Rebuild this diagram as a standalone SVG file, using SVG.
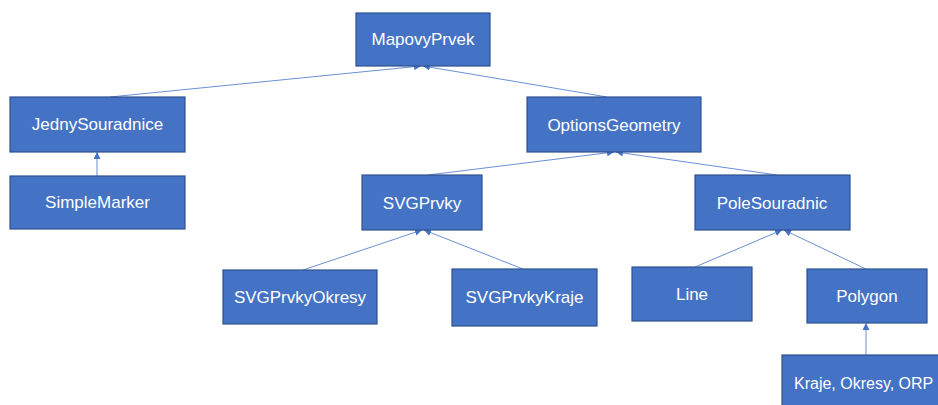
<svg xmlns="http://www.w3.org/2000/svg" width="938" height="405" viewBox="0 0 938 405">
<style>
.box{fill:#4472C4;stroke:#2F528F;stroke-width:1.2}
.lbl{fill:#ffffff;font-family:"Liberation Sans","Open Sans",sans-serif;font-size:17px;text-anchor:middle}
.con{stroke:#6A8FD3;stroke-width:1;fill:none;marker-end:url(#arr)}
</style>
<defs>
<marker id="arr" viewBox="0 0 10 10" refX="10" refY="5" markerWidth="7" markerHeight="7" orient="auto" markerUnits="userSpaceOnUse">
<path d="M0,0 L10,5 L0,10 z" fill="#4472C4"/>
</marker>
</defs>
<rect width="938" height="405" fill="#ffffff"/>
<g id="connectors">
<line class="con" x1="110" y1="97" x2="421" y2="66"/>
<line class="con" x1="607" y1="97" x2="423" y2="66"/>
<line class="con" x1="97" y1="176" x2="97" y2="152"/>
<line class="con" x1="428" y1="175" x2="614" y2="152"/>
<line class="con" x1="777" y1="175" x2="616" y2="152"/>
<line class="con" x1="303" y1="270" x2="422" y2="230"/>
<line class="con" x1="523" y1="269" x2="424" y2="230"/>
<line class="con" x1="695" y1="267" x2="782" y2="230"/>
<line class="con" x1="866" y1="269" x2="784" y2="230"/>
<line class="con" x1="866" y1="355" x2="866" y2="323"/>
</g>
<g id="MapovyPrvek"><rect class="box" x="356" y="13" width="134" height="53"/><text class="lbl" x="423" y="45">MapovyPrvek</text></g>
<g id="JednySouradnice"><rect class="box" x="10" y="97" width="175" height="55"/><text class="lbl" x="97.5" y="130">JednySouradnice</text></g>
<g id="SimpleMarker"><rect class="box" x="10" y="176" width="175" height="53"/><text class="lbl" x="97.5" y="208">SimpleMarker</text></g>
<g id="OptionsGeometry"><rect class="box" x="527" y="97" width="174" height="55"/><text class="lbl" x="614" y="131">OptionsGeometry</text></g>
<g id="SVGPrvky"><rect class="box" x="362" y="175" width="120" height="55"/><text class="lbl" x="422" y="209">SVGPrvky</text></g>
<g id="PoleSouradnic"><rect class="box" x="695" y="175" width="155" height="55"/><text class="lbl" x="772" y="209">PoleSouradnic</text></g>
<g id="SVGPrvkyOkresy"><rect class="box" x="223" y="270" width="154" height="54"/><text class="lbl" x="300" y="303">SVGPrvkyOkresy</text></g>
<g id="SVGPrvkyKraje"><rect class="box" x="452" y="269" width="145" height="57"/><text class="lbl" x="524.5" y="303">SVGPrvkyKraje</text></g>
<g id="Line"><rect class="box" x="632" y="267" width="120" height="54"/><text class="lbl" x="692" y="300">Line</text></g>
<g id="Polygon"><rect class="box" x="807" y="269" width="120" height="54"/><text class="lbl" x="867" y="302">Polygon</text></g>
<g id="KrajeOkresyORP"><rect class="box" x="782" y="355" width="180" height="55"/><text class="lbl" x="794" y="389" style="text-anchor:start;font-size:16px">Kraje, Okresy, ORP</text></g>
</svg>
